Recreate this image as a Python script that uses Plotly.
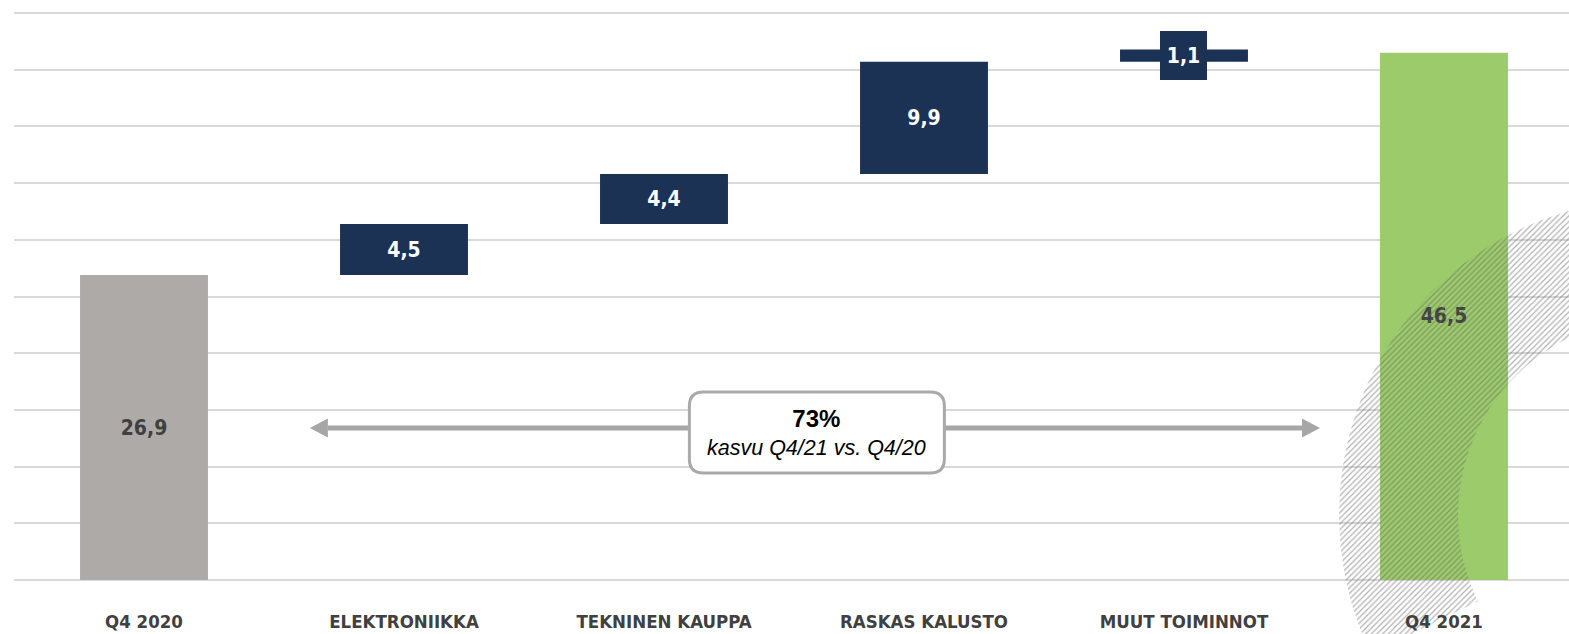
import numpy as np
import plotly.graph_objects as go

# ---------------- data ----------------
categories = ["Q4 2020", "ELEKTRONIIKKA", "TEKNINEN KAUPPA", "RASKAS KALUSTO", "MUUT TOIMINNOT", "Q4 2021"]
values = [26.9, 4.5, 4.4, 9.9, 1.1, 46.5]
measures = ["absolute", "relative", "relative", "relative", "relative", "total"]
growth_pct = "73%"
growth_text = "kasvu Q4/21 vs. Q4/20"

# ---------------- styles ----------------
GRAY = "#AEAAA8"
NAVY = "#1B3254"
GREEN = "#9BCB6A"
TXT = "#404040"
COND = "DejaVu Sans Condensed"

colors = []
for m in measures:
    colors.append(GRAY if m == "absolute" else (GREEN if m == "total" else NAVY))

bases = []
running = 0.0
for v, m in zip(values, measures):
    if m == "absolute":
        bases.append(0.0)
        running = v
    elif m == "relative":
        bases.append(running)
        running += v
    else:
        bases.append(0.0)

labels = [f"{v:.1f}".replace(".", ",") for v in values]
small = [v < 2 for v in values]
bar_text = ["" if s else t for s, t in zip(small, labels)]
text_pos = ["none" if s else "inside" for s in small]
text_col = [("white" if c == NAVY else TXT) for c in colors]

fig = go.Figure()
fig.add_trace(go.Bar(
    x=categories, y=values, base=bases,
    marker=dict(color=colors, line=dict(width=0)),
    text=bar_text, textposition=text_pos, insidetextanchor="middle",
    textangle=0, constraintext="none",
    textfont=dict(family=COND, size=21, color=text_col, weight="bold"),
    hoverinfo="skip", showlegend=False,
))

# decorative hatched ring (pixel overlay axes)
cx, cy, ro, ri = 1655, 515, 316, 197
th = np.radians(np.linspace(154, 330, 200))
xs = np.concatenate([cx + ro * np.cos(th), cx + ri * np.cos(th[::-1])])
ys = np.concatenate([cy + ro * np.sin(th), cy + ri * np.sin(th[::-1])])
fig.add_trace(go.Scatter(
    x=np.append(xs, xs[0]), y=np.append(ys, ys[0]), xaxis="x2", yaxis="y2",
    mode="lines", line=dict(width=0), fill="toself", fillcolor="rgba(255,255,255,0)",
    fillpattern=dict(shape="/", fgcolor="rgb(100,100,100)", fgopacity=0.5, size=4, solidity=0.3),
    hoverinfo="skip", showlegend=False,
))

# scale
px_per_unit = 11.338
y_min = -54 / px_per_unit
y_max = 580 / px_per_unit

fig.update_layout(
    width=1569, height=634,
    margin=dict(l=14, r=0, t=0, b=0),
    plot_bgcolor="white", paper_bgcolor="white",
    bargap=0.508,
    xaxis=dict(
        type="category", range=[-0.5, 5.4808], anchor="free", position=54 / 634,
        showgrid=False, showline=False, ticks="", zeroline=False,
        tickfont=dict(family=COND, size=18.5, color=TXT, weight="bold"),
        ticklabelstandoff=28,
    ),
    yaxis=dict(
        range=[y_min, y_max], tick0=0, dtick=5, showticklabels=False,
        showgrid=True, gridcolor="#D9D9D9", gridwidth=2,
        zeroline=True, zerolinecolor="#D9D9D9", zerolinewidth=2, ticks="",
    ),
    xaxis2=dict(overlaying="x", range=[14, 1569], visible=False, anchor="y2"),
    yaxis2=dict(overlaying="y", range=[634, 0], visible=False, anchor="x2"),
)

# growth arrow + box (decorative annotation)
ARROW = "#A6A6A6"
ay = (580 - 428) / px_per_unit
ax0, ax1 = 0.638, 4.523
head = 18
fig.add_shape(type="line", xref="x", yref="y", x0=ax0 + head / 260, x1=ax1 - head / 260,
              y0=ay, y1=ay, line=dict(color=ARROW, width=5), layer="above")
fig.add_shape(type="path", xref="x", yref="y", xsizemode="pixel", ysizemode="pixel",
              xanchor=ax0, yanchor=ay, path=f"M 0,0 L {head},9.5 L {head},-9.5 Z",
              fillcolor=ARROW, line=dict(width=0), layer="above")
fig.add_shape(type="path", xref="x", yref="y", xsizemode="pixel", ysizemode="pixel",
              xanchor=ax1, yanchor=ay, path=f"M 0,0 L {-head},9.5 L {-head},-9.5 Z",
              fillcolor=ARROW, line=dict(width=0), layer="above")

bx, by = 2.588, (580 - 432.5) / px_per_unit
hw, hh, r = 127.5, 40.5, 14
rr = (f"M {-hw + r},{-hh} L {hw - r},{-hh} Q {hw},{-hh} {hw},{-hh + r} "
      f"L {hw},{hh - r} Q {hw},{hh} {hw - r},{hh} L {-hw + r},{hh} "
      f"Q {-hw},{hh} {-hw},{hh - r} L {-hw},{-hh + r} Q {-hw},{-hh} {-hw + r},{-hh} Z")
fig.add_shape(type="path", xref="x", yref="y", xsizemode="pixel", ysizemode="pixel",
              xanchor=bx, yanchor=by, path=rr, fillcolor="white",
              line=dict(color="#A9A9A9", width=3), layer="above")
fig.add_annotation(x=bx, y=by, xref="x", yref="y", showarrow=False,
                   text=f"<span style='font-size:24px'><b>{growth_pct}</b></span><br><i>{growth_text}</i>",
                   font=dict(family="Liberation Sans, Arial", size=21.5, color="black"),
                   align="center")

# label for the small bar
for i, s in enumerate(small):
    if s:
        fig.add_annotation(x=categories[i], y=bases[i] + values[i] / 2, xref="x", yref="y",
                           showarrow=False, text=labels[i], bgcolor=NAVY,
                           width=47, height=49, borderpad=0, borderwidth=0,
                           font=dict(family=COND, size=21, color="white", weight="bold"))

fig.write_html("out.html", config={"displayModeBar": False},
               post_script="document.body.style.margin='0px';")
